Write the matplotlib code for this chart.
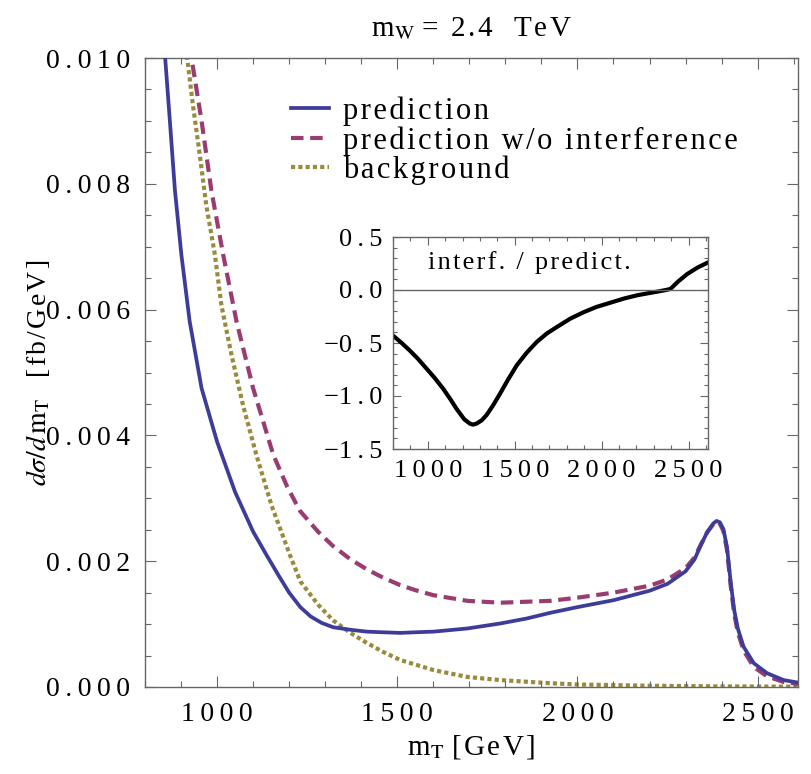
import matplotlib
matplotlib.use("Agg")
import matplotlib.pyplot as plt
from matplotlib.ticker import MultipleLocator, FuncFormatter

plt.rcParams['font.family'] = ['Liberation Serif', 'DejaVu Serif']
plt.rcParams['mathtext.fontset'] = 'stix'

# prediction (solid blue)
pred_x = [850, 856, 869, 883, 901, 924, 957, 1000, 1050, 1100, 1137, 1170, 1200, 1231, 1260,
          1290, 1322, 1370, 1416, 1460, 1508, 1550, 1600, 1694, 1786, 1860, 1925, 2000, 2100,
          2200, 2250, 2300, 2325, 2342, 2359, 2377, 2386, 2395, 2405, 2415, 2425, 2435, 2445,
          2461, 2489, 2526, 2572, 2612]
pred_y = [0.0105, 0.0100, 0.0090, 0.0079, 0.00687, 0.00581, 0.00475, 0.0039, 0.0031, 0.00247,
          0.00210, 0.00178, 0.00150, 0.00127, 0.00112, 0.00102, 0.00095, 0.00091, 0.00088,
          0.00087, 0.00086, 0.00087, 0.00088, 0.00093, 0.00101, 0.00109, 0.00118, 0.00127,
          0.00138, 0.00153, 0.00164, 0.00184, 0.00203, 0.00225, 0.00245, 0.00260, 0.00264,
          0.00262, 0.00251, 0.00222, 0.00168, 0.00122, 0.00093, 0.00064, 0.00038, 0.00022,
          0.00011, 0.00007]

# prediction without interference (dashed magenta)
noint_x = [925, 929, 957, 984, 1017, 1054, 1100, 1156, 1195, 1230, 1280, 1320, 1370, 1416,
           1460, 1508, 1550, 1600, 1694, 1786, 1925, 2000, 2100, 2200, 2250, 2300, 2325, 2342,
           2360, 2377, 2386, 2395, 2405, 2415, 2425, 2435, 2445, 2461, 2489, 2526, 2572, 2612]
noint_y = [0.0105, 0.0100, 0.0090, 0.0079, 0.00687, 0.00581, 0.00475, 0.00369, 0.00318,
           0.00280, 0.00247, 0.00225, 0.00203, 0.00187, 0.00174, 0.00162, 0.00154, 0.00146,
           0.00137, 0.00134, 0.00137, 0.00142, 0.00150, 0.00161, 0.00171, 0.00189, 0.00206,
           0.00226, 0.00246, 0.00259, 0.00263, 0.00260, 0.00248, 0.00218, 0.00162, 0.00116,
           0.00087, 0.00058, 0.00032, 0.00017, 0.00008, 0.00005]

# background (dotted gold)
bkg_x = [910, 915, 933, 952, 970, 994, 1012, 1040, 1072, 1109, 1151, 1202, 1231, 1280, 1322,
         1370, 1416, 1460, 1508, 1600, 1694, 1786, 1925, 2000, 2200, 2400, 2612]
bkg_y = [0.0105, 0.0101, 0.00925, 0.00846, 0.00766, 0.00687, 0.00607, 0.00528, 0.00448,
         0.00369, 0.00289, 0.0021, 0.00168, 0.00131, 0.00106, 0.00086, 0.0007, 0.00056,
         0.00043, 0.00027, 0.00016, 0.00011, 0.00006, 0.00004, 0.00002, 0.00001, 0.000005]

# inset: interference / prediction
ratio_x = [800, 850, 896, 944, 992, 1040, 1088, 1130, 1165, 1210, 1242, 1260, 1281, 1310,
           1338, 1375, 1415, 1460, 1512, 1570, 1627, 1685, 1742, 1820, 1896, 1970, 2050,
           2130, 2204, 2270, 2338, 2370, 2396, 2440, 2492, 2550, 2612]
ratio_y = [-0.43, -0.50, -0.57, -0.65, -0.74, -0.83, -0.93, -1.03, -1.12, -1.22, -1.26,
           -1.27, -1.26, -1.23, -1.18, -1.09, -0.98, -0.85, -0.71, -0.59, -0.49, -0.41,
           -0.35, -0.27, -0.21, -0.16, -0.12, -0.08, -0.05, -0.03, -0.01, 0.0, 0.01, 0.08,
           0.15, 0.21, 0.26]

blue = '#3d3d99'
magenta = '#993d71'
gold = '#998b3d'
frame = '#666666'
fs = 20
fs_leg = 22
fs_in = 19


def sp(s, gap='\u2009'):
    # Mathematica export has wide letter spacing
    return gap.join(s)


def fmt(digits):
    def f(v, pos):
        s = f'{abs(v):.{digits}f}'
        return ('\u2212' if v < -1e-12 else '') + sp(s)
    return FuncFormatter(f)


def style_axes(a, size, major_len, minor_len, pad):
    a.tick_params(which='both', direction='in', top=True, right=True, color=frame,
                  labelsize=size, width=0.8)
    a.tick_params(which='major', length=major_len, pad=pad)
    a.tick_params(which='minor', length=minor_len)
    for s in a.spines.values():
        s.set_color(frame)
        s.set_linewidth(1.0)


fig = plt.figure(figsize=(8.11, 7.74), dpi=100)
ax = fig.add_axes([145 / 811, 87 / 774, 653 / 811, 629 / 774])

ax.plot(pred_x, pred_y, color=blue, lw=2.7, label=sp('prediction', '\u200a'), zorder=3)
ax.plot(noint_x, noint_y, color=magenta, lw=3.0, dashes=(3, 1.6),
        label=sp('prediction w/o interference', '\u200a'), zorder=2)
ax.plot(bkg_x, bkg_y, color=gold, lw=3.0, dashes=(1.0, 0.75),
        label=sp('background', '\u200a'), zorder=1)

ax.set_xlim(800, 2612)
ax.set_ylim(0, 0.010)
ax.xaxis.set_major_locator(MultipleLocator(500))
ax.xaxis.set_minor_locator(MultipleLocator(100))
ax.yaxis.set_major_locator(MultipleLocator(0.002))
ax.yaxis.set_minor_locator(MultipleLocator(0.0005))
ax.xaxis.set_major_formatter(fmt(0))
ax.yaxis.set_major_formatter(fmt(3))
style_axes(ax, fs, 8, 4, 11)

ax.set_xlabel(r'm$_\mathrm{T}$ ' + sp('[GeV]', '\u200a'), fontsize=fs + 1, labelpad=4)
ax.set_ylabel(r'$d\sigma/d\,\mathrm{m}_\mathrm{T}$   ' + sp('[fb/GeV]', '\u200a'),
              fontsize=fs)
ax.yaxis.set_label_coords(-0.142, 0.5)
ax.set_title(r'm$_\mathrm{W}$ ' + sp('= 2.4  TeV', '\u200a'), fontsize=fs + 1, pad=16)

ax.legend(loc='upper left', bbox_to_anchor=(0.205, 0.958), frameon=False, fontsize=fs_leg,
          handlelength=1.25, handletextpad=0.45, labelspacing=0.0, borderaxespad=0)

# inset
ins = fig.add_axes([393 / 811, (774 - 449) / 774, 315 / 811, 212 / 774])
ins.plot(ratio_x, ratio_y, color='black', lw=3.0)
ins.axhline(0, color=frame, lw=1.0)
ins.set_xlim(800, 2612)
ins.set_ylim(-1.5, 0.5)
ins.xaxis.set_major_locator(MultipleLocator(500))
ins.xaxis.set_minor_locator(MultipleLocator(100))
ins.yaxis.set_major_locator(MultipleLocator(0.5))
ins.yaxis.set_minor_locator(MultipleLocator(0.1))
ins.xaxis.set_major_formatter(fmt(0))
ins.yaxis.set_major_formatter(fmt(1))
style_axes(ins, fs_in, 6, 3, 8)
ins.text(0.11, 0.88, sp('interf. / predict.', '\u200a'), transform=ins.transAxes,
         fontsize=fs_in, ha='left', va='center')

fig.savefig('out.png', dpi=100)
